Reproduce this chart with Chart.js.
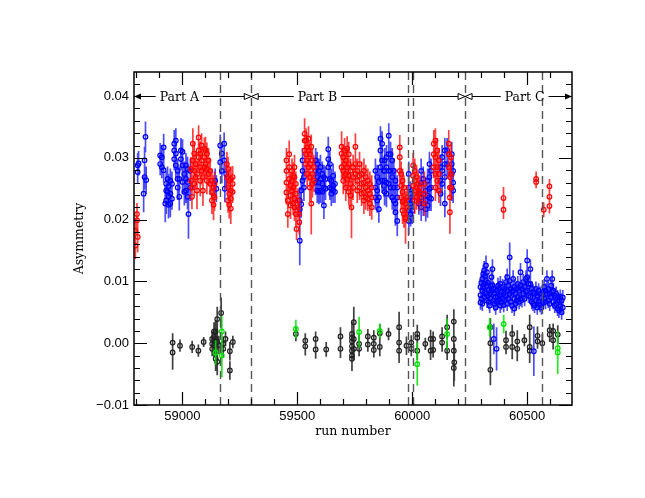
<!DOCTYPE html>
<html>
<head>
<meta charset="utf-8">
<script src="https://cdn.jsdelivr.net/npm/chart.js@4"></script>
<style>
html,body{margin:0;padding:0;background:#fff;}
#wrap{width:645px;height:498px;}
</style>
</head>
<body>
<div id="wrap"><canvas id="c" width="645" height="498"></canvas></div>
<script>
// ---- axis / annotation data ----
const xLabel = 'run number';
const yLabel = 'Asymmetry';
const xTickValues = [59000, 59500, 60000, 60500];
const yTickValues = [-0.01, 0.00, 0.01, 0.02, 0.03, 0.04];
const boundaryRuns = [59162, 59300, 59981, 60003, 60230, 60565];
const partNames = ['Part A', 'Part B', 'Part C'];
const partStarts = [58790, 59300, 60230];
const partEnds = [59300, 60230, 60695];
const partLabelRuns = [58987, 59588, 60489];

// ---- series: [run, asymmetry, error] ----
const redA = [
[58796,0.0182,0.0020],[58796,0.0158,0.0022],[58803,0.0209,0.0018],[58803,0.0199,0.0020],[58806,0.0172,0.0025],
[59038,0.0282,0.0020],[59038,0.0263,0.0018],[59042,0.0252,0.0022],[59042,0.0237,0.0020],
[59046,0.0323,0.0025],[59046,0.0296,0.0020],[59052,0.0307,0.0018],[59052,0.0279,0.0022],[59052,0.0258,0.0020],
[59058,0.0290,0.0020],[59058,0.0269,0.0018],[59064,0.0274,0.0022],[59064,0.0247,0.0030],
[59071,0.0333,0.0020],[59071,0.0312,0.0018],[59071,0.0301,0.0022],[59078,0.0307,0.0020],[59078,0.0285,0.0018],[59078,0.0263,0.0025],
[59084,0.0320,0.0020],[59084,0.0296,0.0018],[59084,0.0279,0.0022],[59090,0.0269,0.0020],[59090,0.0247,0.0025],
[59096,0.0315,0.0018],[59096,0.0301,0.0020],[59096,0.0285,0.0018],[59101,0.0312,0.0022],[59101,0.0290,0.0020],
[59107,0.0307,0.0018],[59107,0.0282,0.0020],[59107,0.0263,0.0022],[59114,0.0296,0.0020],[59114,0.0274,0.0018],
[59121,0.0279,0.0020],[59121,0.0258,0.0018],[59129,0.0263,0.0020],[59129,0.0245,0.0018],[59129,0.0231,0.0022],
[59136,0.0252,0.0020],[59136,0.0239,0.0018],[59136,0.0224,0.0025],[59140,0.0258,0.0020],[59140,0.0236,0.0022],
[59194,0.0290,0.0020],[59194,0.0269,0.0018],[59199,0.0282,0.0020],[59199,0.0252,0.0022],[59199,0.0231,0.0020],
[59204,0.0263,0.0020],[59204,0.0242,0.0018],[59204,0.0224,0.0022],[59211,0.0266,0.0020],[59211,0.0247,0.0018],
[59211,0.0234,0.0022],[59211,0.0218,0.0025],[59219,0.0269,0.0018],[59219,0.0258,0.0020],[59219,0.0245,0.0018]
];
const redB = [
[59453,0.0296,0.0020],[59453,0.0279,0.0018],[59453,0.0260,0.0022],[59453,0.0244,0.0020],[59459,0.0231,0.0025],[59459,0.0209,0.0022],
[59465,0.0306,0.0022],[59465,0.0285,0.0020],[59465,0.0266,0.0018],[59471,0.0255,0.0020],[59471,0.0239,0.0018],[59471,0.0223,0.0022],
[59477,0.0279,0.0020],[59477,0.0263,0.0018],[59477,0.0247,0.0020],[59482,0.0271,0.0022],[59482,0.0252,0.0020],[59482,0.0226,0.0018],
[59488,0.0285,0.0020],[59488,0.0269,0.0018],[59488,0.0234,0.0020],[59488,0.0220,0.0022],[59494,0.0258,0.0020],[59494,0.0242,0.0018],
[59494,0.0209,0.0020],[59497,0.0185,0.0018],[59503,0.0231,0.0020],[59503,0.0220,0.0018],[59509,0.0209,0.0022],[59509,0.0196,0.0020],
[59532,0.0339,0.0025],[59532,0.0328,0.0020],[59532,0.0312,0.0018],[59538,0.0328,0.0020],[59538,0.0306,0.0018],[59538,0.0290,0.0022],
[59543,0.0317,0.0020],[59543,0.0296,0.0018],[59543,0.0274,0.0022],[59549,0.0331,0.0020],[59549,0.0312,0.0018],[59549,0.0285,0.0022],
[59555,0.0306,0.0020],[59555,0.0290,0.0018],[59555,0.0269,0.0020],[59555,0.0252,0.0022],[59561,0.0318,0.0020],[59561,0.0226,0.0050],
[59566,0.0296,0.0020],[59566,0.0274,0.0018],[59566,0.0258,0.0022],[59572,0.0285,0.0020],[59572,0.0263,0.0018],
[59693,0.0318,0.0025],[59693,0.0307,0.0020],[59693,0.0285,0.0018],[59700,0.0301,0.0020],[59700,0.0279,0.0018],[59700,0.0263,0.0022],
[59706,0.0312,0.0020],[59706,0.0290,0.0018],[59706,0.0271,0.0020],[59711,0.0296,0.0020],[59711,0.0274,0.0018],[59711,0.0252,0.0022],
[59717,0.0315,0.0020],[59717,0.0285,0.0018],[59717,0.0266,0.0020],[59724,0.0306,0.0020],[59724,0.0290,0.0018],[59724,0.0271,0.0020],
[59724,0.0245,0.0022],[59732,0.0279,0.0020],[59732,0.0258,0.0018],[59732,0.0239,0.0020],[59736,0.0220,0.0050],
[59743,0.0285,0.0020],[59743,0.0269,0.0018],[59743,0.0252,0.0020],[59753,0.0318,0.0022],[59753,0.0290,0.0020],[59753,0.0274,0.0018],
[59761,0.0279,0.0020],[59761,0.0263,0.0018],[59761,0.0247,0.0020],[59771,0.0290,0.0020],[59771,0.0271,0.0018],[59771,0.0252,0.0020],
[59780,0.0274,0.0020],[59780,0.0258,0.0018],[59780,0.0242,0.0020],[59790,0.0279,0.0020],[59790,0.0260,0.0018],[59790,0.0244,0.0020],
[59790,0.0231,0.0022],[59798,0.0269,0.0020],[59798,0.0252,0.0018],[59798,0.0236,0.0020],[59807,0.0263,0.0020],[59807,0.0247,0.0018],
[59807,0.0234,0.0020],[59816,0.0258,0.0020],[59816,0.0242,0.0018],[59816,0.0226,0.0020],[59824,0.0252,0.0020],[59824,0.0236,0.0018],
[59824,0.0220,0.0020],
[59946,0.0317,0.0020],[59946,0.0301,0.0018],[59946,0.0279,0.0020],[59952,0.0274,0.0020],[59952,0.0255,0.0018],[59952,0.0236,0.0020],
[59958,0.0263,0.0020],[59958,0.0245,0.0018],[59958,0.0229,0.0020],[59958,0.0215,0.0022],[59964,0.0252,0.0020],[59964,0.0231,0.0018],
[59964,0.0209,0.0022],[59971,0.0226,0.0020],[59971,0.0204,0.0025],[59971,0.0201,0.0040],[59978,0.0236,0.0020],[59978,0.0220,0.0022],
[60004,0.0288,0.0020],[60004,0.0271,0.0018],[60004,0.0255,0.0020],[60011,0.0279,0.0020],[60011,0.0263,0.0018],[60011,0.0247,0.0020],
[60011,0.0231,0.0022],[60019,0.0269,0.0020],[60019,0.0252,0.0018],[60019,0.0236,0.0020],[60026,0.0258,0.0020],[60026,0.0242,0.0018],
[60033,0.0252,0.0020],[60033,0.0244,0.0018],[60033,0.0234,0.0020],[60053,0.0258,0.0020],[60053,0.0242,0.0018],[60053,0.0226,0.0020],
[60094,0.0323,0.0022],[60094,0.0306,0.0020],[60094,0.0285,0.0018],[60101,0.0328,0.0020],[60101,0.0301,0.0018],[60101,0.0274,0.0020],
[60101,0.0252,0.0022],[60109,0.0312,0.0020],[60109,0.0285,0.0018],[60109,0.0263,0.0020],[60116,0.0296,0.0020],[60116,0.0274,0.0018],
[60116,0.0247,0.0020],[60159,0.0323,0.0022],[60159,0.0306,0.0020],[60159,0.0285,0.0018],[60164,0.0269,0.0020],[60164,0.0252,0.0018],
[60164,0.0236,0.0020],[60164,0.0212,0.0035],[60169,0.0301,0.0020],[60169,0.0274,0.0018],[60169,0.0252,0.0020]
];
const redC = [
[60397,0.0235,0.0018],[60397,0.0216,0.0015],[60539,0.0266,0.0012],[60539,0.0261,0.0010],[60572,0.0216,0.0012],
[60597,0.0254,0.0012],[60597,0.0237,0.0012],[60597,0.0222,0.0012]
];
const blueA = [
[58806,0.0288,0.0020],[58806,0.0277,0.0018],[58810,0.0291,0.0020],[58832,0.0242,0.0030],[58836,0.0296,0.0022],[58836,0.0269,0.0020],
[58840,0.0334,0.0025],[58843,0.0264,0.0022],[58904,0.0304,0.0020],[58904,0.0290,0.0018],[58911,0.0301,0.0020],[58911,0.0285,0.0018],
[58919,0.0317,0.0022],[58919,0.0280,0.0020],[58926,0.0226,0.0030],[58930,0.0258,0.0020],[58930,0.0247,0.0018],[58930,0.0231,0.0022],
[58936,0.0266,0.0020],[58936,0.0245,0.0018],[58940,0.0254,0.0020],[58940,0.0238,0.0018],[58940,0.0224,0.0022],
[58948,0.0263,0.0020],[58948,0.0242,0.0018],[58948,0.0226,0.0022],[58955,0.0258,0.0020],[58955,0.0234,0.0018],
[58965,0.0323,0.0022],[58965,0.0312,0.0020],[58965,0.0298,0.0018],[58972,0.0328,0.0020],[58972,0.0307,0.0018],[58972,0.0288,0.0020],
[58980,0.0279,0.0020],[58980,0.0266,0.0018],[58980,0.0252,0.0020],[58987,0.0266,0.0020],[58987,0.0237,0.0022],
[58994,0.0312,0.0020],[58994,0.0298,0.0018],[59001,0.0310,0.0020],[59001,0.0288,0.0018],[59001,0.0261,0.0020],
[59009,0.0274,0.0020],[59009,0.0245,0.0022],[59016,0.0288,0.0020],[59016,0.0266,0.0018],[59016,0.0247,0.0020],
[59023,0.0282,0.0020],[59023,0.0261,0.0018],[59023,0.0237,0.0020],[59027,0.0209,0.0040],[59035,0.0279,0.0020],[59035,0.0252,0.0022],
[59143,0.0263,0.0020],[59148,0.0250,0.0022],[59165,0.0320,0.0018],[59165,0.0293,0.0020],[59172,0.0307,0.0018],[59172,0.0279,0.0020],
[59182,0.0323,0.0018],[59182,0.0296,0.0020],[59185,0.0250,0.0022],[59191,0.0274,0.0020]
];
const blueB = [
[59511,0.0231,0.0022],[59511,0.0217,0.0020],[59511,0.0166,0.0040],[59517,0.0247,0.0020],[59517,0.0225,0.0022],
[59523,0.0296,0.0020],[59523,0.0279,0.0018],[59523,0.0263,0.0020],[59529,0.0269,0.0020],[59529,0.0252,0.0022],
[59580,0.0296,0.0020],[59580,0.0279,0.0018],[59580,0.0260,0.0020],[59587,0.0290,0.0020],[59587,0.0269,0.0018],[59587,0.0247,0.0020],
[59594,0.0279,0.0020],[59594,0.0260,0.0018],[59594,0.0245,0.0020],[59601,0.0285,0.0020],[59601,0.0266,0.0018],[59601,0.0247,0.0020],
[59609,0.0274,0.0020],[59609,0.0258,0.0018],[59609,0.0245,0.0020],[59616,0.0269,0.0020],[59616,0.0252,0.0018],[59616,0.0223,0.0022],
[59623,0.0266,0.0020],[59623,0.0250,0.0018],[59635,0.0314,0.0020],[59635,0.0298,0.0018],[59635,0.0285,0.0020],
[59642,0.0290,0.0020],[59642,0.0266,0.0018],[59642,0.0252,0.0020],[59648,0.0263,0.0020],[59648,0.0250,0.0018],[59648,0.0242,0.0020],
[59656,0.0271,0.0020],[59656,0.0255,0.0018],[59656,0.0247,0.0020],[59664,0.0258,0.0020],[59664,0.0245,0.0018],
[59840,0.0279,0.0020],[59840,0.0252,0.0018],[59840,0.0236,0.0020],[59848,0.0269,0.0020],[59848,0.0247,0.0018],[59848,0.0231,0.0020],
[59855,0.0261,0.0020],[59855,0.0236,0.0018],[59855,0.0217,0.0022],[59862,0.0331,0.0020],[59862,0.0312,0.0018],[59862,0.0285,0.0020],
[59869,0.0323,0.0020],[59869,0.0296,0.0018],[59869,0.0263,0.0020],[59877,0.0279,0.0020],[59877,0.0255,0.0018],
[59880,0.0296,0.0020],[59880,0.0279,0.0018],[59880,0.0263,0.0020],[59880,0.0245,0.0022],[59888,0.0301,0.0020],[59888,0.0285,0.0018],
[59888,0.0260,0.0020],[59888,0.0242,0.0022],[59898,0.0336,0.0020],[59898,0.0306,0.0018],[59898,0.0279,0.0020],[59898,0.0258,0.0022],
[59906,0.0306,0.0020],[59906,0.0279,0.0018],[59906,0.0252,0.0020],[59913,0.0296,0.0020],[59913,0.0269,0.0018],[59913,0.0236,0.0020],
[59920,0.0279,0.0020],[59920,0.0252,0.0018],[59920,0.0231,0.0020],[59927,0.0263,0.0020],[59927,0.0226,0.0018],[59927,0.0212,0.0022],
[59935,0.0252,0.0020],[59935,0.0236,0.0018],[59935,0.0198,0.0025],
[59985,0.0274,0.0020],[59985,0.0252,0.0018],[59985,0.0231,0.0020],[59985,0.0215,0.0018],[59985,0.0198,0.0022],
[59993,0.0242,0.0020],[59993,0.0226,0.0018],[59993,0.0209,0.0020],[60000,0.0231,0.0020],[60000,0.0215,0.0022],
[60029,0.0242,0.0020],[60029,0.0226,0.0018],[60039,0.0279,0.0020],[60039,0.0260,0.0018],[60039,0.0236,0.0020],[60039,0.0220,0.0022],
[60048,0.0266,0.0020],[60048,0.0242,0.0018],[60048,0.0226,0.0020],[60059,0.0247,0.0020],[60059,0.0231,0.0018],[60059,0.0217,0.0020],
[60067,0.0263,0.0020],[60067,0.0239,0.0018],[60067,0.0223,0.0020],[60075,0.0290,0.0020],[60075,0.0269,0.0018],[60075,0.0250,0.0020],
[60075,0.0236,0.0022],[60082,0.0279,0.0020],[60082,0.0252,0.0018],[60082,0.0234,0.0020],
[60123,0.0285,0.0020],[60123,0.0263,0.0018],[60123,0.0242,0.0020],[60130,0.0301,0.0020],[60130,0.0279,0.0018],[60130,0.0258,0.0020],
[60142,0.0312,0.0020],[60142,0.0290,0.0018],[60142,0.0269,0.0020],[60142,0.0226,0.0022],[60152,0.0312,0.0020],[60152,0.0290,0.0018],
[60172,0.0306,0.0020],[60172,0.0290,0.0018],[60172,0.0274,0.0020],[60172,0.0252,0.0022],[60178,0.0279,0.0020],[60178,0.0260,0.0018],
[60178,0.0247,0.0020]
];
const blueC = [
[60297,0.0091,0.0013],[60297,0.0078,0.0012],[60297,0.0066,0.0012],[60301,0.0098,0.0013],[60301,0.0072,0.0012],
[60305,0.0104,0.0014],[60305,0.0085,0.0012],[60305,0.0064,0.0012],[60309,0.0112,0.0015],[60309,0.0091,0.0012],
[60313,0.0118,0.0015],[60313,0.0096,0.0013],[60313,0.0075,0.0012],[60317,0.0109,0.0014],[60317,0.0083,0.0012],
[60321,0.0126,0.0016],[60321,0.0101,0.0013],[60321,0.0080,0.0012],[60325,0.0115,0.0014],[60325,0.0093,0.0012],[60325,0.0069,0.0012],
[60329,0.0098,0.0013],[60329,0.0077,0.0012],[60333,0.0086,0.0013],[60333,0.0067,0.0012],[60337,0.0080,0.0012],[60337,0.0061,0.0012],
[60341,0.0093,0.0013],[60341,0.0072,0.0012],[60345,0.0107,0.0014],[60345,0.0085,0.0012],[60349,0.0120,0.0016],[60349,0.0094,0.0013],
[60353,0.0088,0.0012],[60353,0.0069,0.0012],[60355,0.0007,0.0025],[60358,0.0081,0.0012],[60358,0.0064,0.0012],
[60363,0.0075,0.0012],[60363,0.0058,0.0012],[60367,-0.0009,0.0035],[60368,0.0085,0.0012],[60368,0.0067,0.0012],
[60373,0.0093,0.0013],[60373,0.0075,0.0012],[60378,0.0088,0.0012],[60378,0.0070,0.0012],
[60383,0.0096,0.0013],[60383,0.0078,0.0012],[60383,0.0061,0.0012],[60388,0.0083,0.0012],[60388,0.0066,0.0012],
[60393,0.0091,0.0013],[60393,0.0072,0.0012],[60398,0.0080,0.0012],[60398,0.0062,0.0012],[60403,0.0088,0.0012],[60403,0.0070,0.0012],
[60408,0.0099,0.0013],[60408,0.0077,0.0012],[60413,0.0107,0.0014],[60413,0.0085,0.0012],[60413,0.0064,0.0012],
[60418,0.0093,0.0013],[60418,0.0072,0.0012],[60424,0.0139,0.0024],[60424,0.0101,0.0014],[60424,0.0080,0.0012],
[60429,0.0088,0.0012],[60429,0.0067,0.0012],[60434,0.0083,0.0012],[60434,0.0061,0.0012],[60439,0.0104,0.0014],[60439,0.0085,0.0012],
[60444,0.0091,0.0013],[60444,0.0072,0.0012],[60444,0.0056,0.0012],[60449,0.0080,0.0012],[60449,0.0064,0.0012],
[60454,0.0088,0.0012],[60454,0.0069,0.0012],[60459,0.0096,0.0013],[60459,0.0075,0.0012],[60465,0.0085,0.0012],[60465,0.0067,0.0012],
[60471,0.0115,0.0015],[60471,0.0093,0.0013],[60471,0.0072,0.0012],[60477,0.0088,0.0012],[60477,0.0070,0.0012],
[60483,0.0099,0.0013],[60483,0.0080,0.0012],[60489,0.0091,0.0013],[60489,0.0072,0.0012],[60495,0.0104,0.0014],[60495,0.0083,0.0012],
[60500,0.0134,0.0018],[60500,0.0107,0.0014],[60500,0.0085,0.0012],[60506,0.0096,0.0013],[60506,0.0077,0.0012],
[60514,0.0120,0.0016],[60514,0.0096,0.0013],[60514,0.0075,0.0012],[60520,0.0088,0.0012],[60520,0.0067,0.0012],
[60526,0.0083,0.0012],[60526,0.0064,0.0012],[60529,-0.0013,0.0040],[60532,0.0080,0.0012],[60532,0.0061,0.0012],
[60538,0.0088,0.0012],[60538,0.0069,0.0012],[60544,0.0077,0.0012],[60544,0.0058,0.0012],[60550,0.0085,0.0012],[60550,0.0067,0.0012],
[60556,0.0080,0.0012],[60556,0.0062,0.0012],[60562,0.0074,0.0012],[60562,0.0058,0.0012],[60568,0.0083,0.0012],[60568,0.0066,0.0012],
[60574,0.0091,0.0013],[60574,0.0072,0.0012],[60580,0.0085,0.0012],[60580,0.0067,0.0012],[60586,0.0104,0.0014],[60586,0.0080,0.0012],
[60592,0.0088,0.0012],[60592,0.0069,0.0012],[60598,0.0080,0.0012],[60598,0.0064,0.0012],[60604,0.0093,0.0013],[60604,0.0075,0.0012],
[60609,0.0104,0.0014],[60609,0.0083,0.0012],[60614,0.0085,0.0012],[60614,0.0067,0.0012],[60620,0.0077,0.0012],[60620,0.0061,0.0012],
[60626,0.0080,0.0012],[60626,0.0064,0.0012],[60632,0.0074,0.0012],[60632,0.0056,0.0012],[60638,0.0069,0.0012],[60638,0.0053,0.0012],
[60644,0.0075,0.0012],[60644,0.0060,0.0012],[60650,0.0069,0.0012],[60650,0.0050,0.0012],[60655,0.0074,0.0012],[60655,0.0058,0.0012]
];
const blackAll = [
[58958,0.0001,0.0015],[58958,-0.0015,0.0028],[58990,-0.0004,0.0010],[59043,-0.0006,0.0010],[59070,-0.0012,0.0010],[59093,0.0002,0.0008],
[59130,0.0007,0.0012],[59130,-0.0001,0.0015],[59130,-0.0009,0.0012],[59138,0.0019,0.0015],[59138,0.0010,0.0018],[59138,0.0004,0.0015],
[59138,-0.0004,0.0018],[59145,0.0019,0.0018],[59145,0.0007,0.0015],[59145,-0.0025,0.0020],[59152,0.0039,0.0020],[59152,0.0002,0.0018],
[59152,-0.0030,0.0022],[59159,-0.0003,0.0015],[59169,0.0049,0.0025],[59178,-0.0009,0.0015],[59178,-0.0001,0.0012],[59188,0.0007,0.0012],
[59207,-0.0044,0.0015],[59207,-0.0013,0.0015],[59220,0.0002,0.0010],
[59494,0.0015,0.0012],[59535,0.0004,0.0012],[59535,-0.0005,0.0015],[59580,0.0007,0.0012],[59580,-0.0010,0.0015],[59626,-0.0010,0.0012],
[59688,0.0011,0.0015],[59688,-0.0009,0.0015],[59738,0.0015,0.0020],[59738,0.0009,0.0025],[59738,0.0003,0.0020],[59738,-0.0005,0.0025],
[59738,-0.0012,0.0020],[59738,-0.0020,0.0025],[59738,-0.0025,0.0020],[59746,0.0034,0.0025],[59746,0.0007,0.0020],[59746,-0.0009,0.0018],
[59769,-0.0001,0.0015],[59769,-0.0009,0.0012],[59807,0.0011,0.0012],[59807,-0.0002,0.0012],[59833,0.0009,0.0012],[59833,-0.0001,0.0012],
[59833,-0.0011,0.0012],[59859,0.0016,0.0015],[59859,-0.0006,0.0015],[59897,0.0015,0.0010],[59943,0.0026,0.0025],[59943,0.0001,0.0018],
[59943,-0.0012,0.0020],[59975,-0.0004,0.0015],[59996,0.0001,0.0012],[59996,-0.0009,0.0012],[60022,0.0015,0.0015],[60022,0.0009,0.0015],
[60022,-0.0012,0.0015],[60057,-0.0001,0.0010],[60080,0.0007,0.0015],[60080,-0.0012,0.0015],[60091,0.0007,0.0012],[60091,-0.0011,0.0012],
[60130,0.0011,0.0015],[60130,0.0001,0.0015],[60152,0.0026,0.0020],[60152,-0.0012,0.0015],[60181,0.0035,0.0020],[60181,0.0007,0.0025],
[60181,-0.0012,0.0025],[60181,-0.0040,0.0030],[60183,-0.0031,0.0030],
[60340,0.0026,0.0015],[60340,0.0000,0.0020],[60340,-0.0043,0.0025],[60408,0.0005,0.0015],[60408,-0.0006,0.0012],[60435,0.0015,0.0015],
[60435,-0.0006,0.0020],[60457,0.0003,0.0018],[60457,-0.0009,0.0020],[60488,0.0005,0.0010],[60511,0.0026,0.0020],[60511,-0.0006,0.0020],
[60511,-0.0012,0.0020],[60545,0.0012,0.0015],[60545,0.0003,0.0012],[60566,0.0000,0.0015],[60598,0.0021,0.0010],[60598,0.0014,0.0012],
[60613,0.0020,0.0012],[60613,0.0005,0.0015],[60633,0.0014,0.0015]
];
const greenAll = [
[59145,-0.0015,0.0020],[59172,0.0019,0.0025],[59172,-0.0020,0.0035],[59494,0.0023,0.0015],[59769,0.0018,0.0025],[59859,0.0020,0.0012],
[60022,-0.0034,0.0035],[60152,0.0015,0.0025],[60337,0.0026,0.0015],[60398,0.0031,0.0015],[60633,-0.0008,0.0020],[60633,-0.0015,0.0035]
];

const X_MIN = 58790, X_MAX = 60695, Y_MIN = -0.01, Y_MAX = 0.0439;

function toPoints(arr){ return arr.map(p => ({x:p[0], y:p[1], e:p[2]})); }

const SERIF = '"DejaVu Serif", serif';
const SANS = '"Liberation Sans", Arial, sans-serif';

const errorBars = {
  id: 'errorBars',
  beforeDatasetDraw(chart, args) {
    const ds = chart.data.datasets[args.index];
    const ys = chart.scales.y;
    const ctx = chart.ctx;
    const a = chart.chartArea;
    ctx.save();
    ctx.beginPath(); ctx.rect(a.left, a.top, a.right - a.left, a.bottom - a.top); ctx.clip();
    ctx.strokeStyle = ds.errorColor;
    ctx.lineWidth = 1.7;
    ctx.beginPath();
    args.meta.data.forEach((el, i) => {
      const d = ds.data[i];
      ctx.moveTo(el.x, ys.getPixelForValue(d.y - d.e));
      ctx.lineTo(el.x, ys.getPixelForValue(d.y + d.e));
    });
    ctx.stroke();
    ctx.restore();
  }
};

const decor = {
  id: 'decor',
  afterDatasetsDraw(chart) {
    const ctx = chart.ctx, a = chart.chartArea;
    const xs = chart.scales.x, ys = chart.scales.y;
    ctx.save();
    // dashed boundaries
    ctx.strokeStyle = '#555';
    ctx.lineWidth = 1.4;
    ctx.setLineDash([8,5]);
    boundaryRuns.forEach(r => {
      const px = Math.round(xs.getPixelForValue(r)) + 0.5;
      ctx.beginPath(); ctx.moveTo(px, a.bottom); ctx.lineTo(px, a.top); ctx.stroke();
    });
    ctx.setLineDash([]);
    // part annotation
    const ly = Math.round(ys.getPixelForValue(0.04)) + 0.5;
    ctx.strokeStyle = '#000'; ctx.fillStyle = '#000'; ctx.lineWidth = 1;
    ctx.font = '12.5px ' + SERIF;
    ctx.textBaseline = 'middle'; ctx.textAlign = 'center';
    function head(tipX, dir, filled) {
      ctx.beginPath();
      ctx.moveTo(tipX, ly);
      ctx.lineTo(tipX - dir*7, ly - 3);
      ctx.lineTo(tipX - dir*7, ly + 3);
      ctx.closePath();
      if (filled) ctx.fill(); else { ctx.fillStyle='#fff'; ctx.fill(); ctx.fillStyle='#000'; ctx.stroke(); }
    }
    partNames.forEach((name, i) => {
      const x0 = Math.max(xs.getPixelForValue(partStarts[i]), a.left);
      const x1 = Math.min(xs.getPixelForValue(partEnds[i]), a.right);
      const cx = xs.getPixelForValue(partLabelRuns[i]);
      const w = ctx.measureText(name).width;
      ctx.beginPath();
      ctx.moveTo(x0, ly); ctx.lineTo(cx - w/2 - 4, ly);
      ctx.moveTo(cx + w/2 + 4, ly); ctx.lineTo(x1, ly);
      ctx.stroke();
      ctx.fillText(name, cx, ly + 1);
      head(x0, -1, i === 0);
      head(x1, 1, i === 2);
    });
    // frame
    ctx.strokeStyle = '#000'; ctx.lineWidth = 1.5;
    ctx.strokeRect(a.left, a.top, a.right - a.left, a.bottom - a.top);
    // ticks
    ctx.lineWidth = 1.2;
    ctx.beginPath();
    for (let v = 58800; v <= X_MAX; v += 100) {
      const px = Math.round(xs.getPixelForValue(v)) + 0.5;
      const len = (v % 500 === 0) ? 13 : 6;
      ctx.moveTo(px, a.bottom); ctx.lineTo(px, a.bottom - len);
      ctx.moveTo(px, a.top); ctx.lineTo(px, a.top + len);
    }
    for (let k = -5; k <= 21; k++) {
      const v = k * 0.002;
      const py = Math.round(ys.getPixelForValue(v)) + 0.5;
      const len = (k % 5 === 0) ? 13 : 6;
      ctx.moveTo(a.left, py); ctx.lineTo(a.left + len, py);
      ctx.moveTo(a.right, py); ctx.lineTo(a.right - len, py);
    }
    ctx.stroke();
    // axis titles
    ctx.fillStyle = '#000';
    ctx.font = '12.5px ' + SERIF;
    ctx.textAlign = 'center'; ctx.textBaseline = 'middle';
    ctx.fillText(xLabel, (a.left + a.right) / 2, 432);
    ctx.translate(80, (a.top + a.bottom) / 2);
    ctx.rotate(-Math.PI / 2);
    ctx.fillText(yLabel, 0, 0);
    ctx.restore();
  }
};

function ds(label, arr, color, errColor) {
  return {
    label, data: toPoints(arr), errorColor: errColor,
    borderColor: color, backgroundColor: 'rgba(0,0,0,0)',
    pointRadius: 2.3, pointBorderWidth: 1.2, pointStyle: 'circle', showLine: false
  };
}

new Chart(document.getElementById('c'), {
  type: 'scatter',
  data: {
    datasets: [
      ds('red', redA.concat(redB, redC), '#ff0000', 'rgba(255,0,0,0.75)'),
      ds('blue', blueA.concat(blueB, blueC), '#0000ff', 'rgba(0,0,255,0.7)'),
      ds('green', greenAll, '#00e000', 'rgba(0,230,0,0.85)'),
      ds('black', blackAll, '#222', 'rgba(0,0,0,0.75)')
    ]
  },
  options: {
    responsive: false, animation: false, devicePixelRatio: 1,
    layout: { padding: { left: 0, top: 72, right: 73, bottom: 0 } },
    plugins: { legend: { display: false }, tooltip: { enabled: false } },
    scales: {
      x: {
        type: 'linear', min: X_MIN, max: X_MAX,
        grid: { display: false, drawTicks: false }, border: { display: false },
        afterFit(s) { s.height = 93; },
        afterBuildTicks(s) { s.ticks = xTickValues.map(v => ({value: v})); },
        ticks: { includeBounds: false, stepSize: 500, maxRotation: 0, padding: 4,
                 color: '#000', font: { family: SANS, size: 13 },
                 callback: v => String(v) }
      },
      y: {
        type: 'linear', min: Y_MIN, max: Y_MAX,
        grid: { display: false, drawTicks: false }, border: { display: false },
        afterFit(s) { s.width = 134; },
        afterBuildTicks(s) { s.ticks = yTickValues.map(v => ({value: v})); },
        ticks: { includeBounds: false, padding: 5, color: '#000',
                 font: { family: SANS, size: 13 },
                 callback: v => (Math.abs(v) < 1e-9 ? '0.00' : v.toFixed(2)).replace('-', '\u2212') }
      }
    }
  },
  plugins: [errorBars, decor]
});
</script>
</body>
</html>
